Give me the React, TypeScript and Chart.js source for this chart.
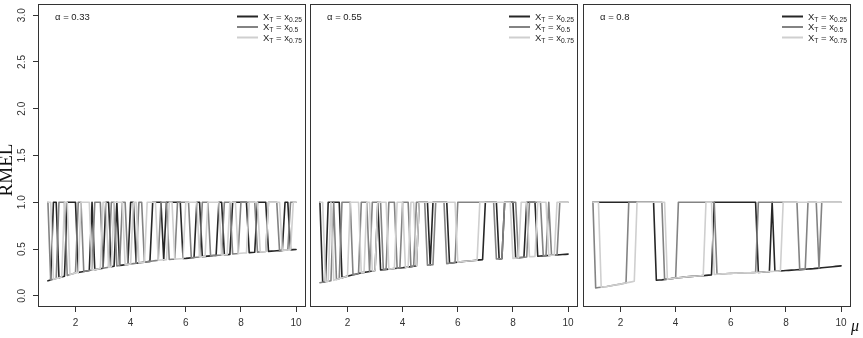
import React, { useEffect, useRef } from "react";
import { Chart, registerables } from "chart.js";

Chart.register(...registerables);

// ---------- data ----------
const MU = [
  1.0, 1.1, 1.2, 1.3, 1.4, 1.5, 1.6, 1.7, 1.8, 1.9,
  2.0, 2.1, 2.2, 2.3, 2.4, 2.5, 2.6, 2.7, 2.8, 2.9,
  3.0, 3.1, 3.2, 3.3, 3.4, 3.5, 3.6, 3.7, 3.8, 3.9,
  4.0, 4.1, 4.2, 4.3, 4.4, 4.5, 4.6, 4.7, 4.8, 4.9,
  5.0, 5.1, 5.2, 5.3, 5.4, 5.5, 5.6, 5.7, 5.8, 5.9,
  6.0, 6.1, 6.2, 6.3, 6.4, 6.5, 6.6, 6.7, 6.8, 6.9,
  7.0, 7.1, 7.2, 7.3, 7.4, 7.5, 7.6, 7.7, 7.8, 7.9,
  8.0, 8.1, 8.2, 8.3, 8.4, 8.5, 8.6, 8.7, 8.8, 8.9,
  9.0, 9.1, 9.2, 9.3, 9.4, 9.5, 9.6, 9.7, 9.8, 9.9,
  10.0,
];

const X_TICKS = [2, 4, 6, 8, 10];
const Y_TICKS = [0, 0.5, 1, 1.5, 2, 2.5, 3];
const ALPHAS = ["0.33", "0.55", "0.8"];
const QUANTILES = ["0.25", "0.5", "0.75"];

// lower RMEL curve for each panel (value at each MU)
const LOW_P1 = [
  0.160, 0.168, 0.176, 0.184, 0.192, 0.200, 0.209, 0.218, 0.227, 0.236,
  0.245, 0.250, 0.255, 0.260, 0.265, 0.270, 0.275, 0.280, 0.285, 0.290,
  0.295, 0.300, 0.305, 0.310, 0.315, 0.320, 0.324, 0.328, 0.332, 0.336,
  0.340, 0.344, 0.348, 0.352, 0.356, 0.360, 0.364, 0.368, 0.372, 0.376,
  0.380, 0.382, 0.384, 0.386, 0.388, 0.390, 0.392, 0.394, 0.396, 0.398,
  0.400, 0.403, 0.406, 0.409, 0.412, 0.415, 0.418, 0.421, 0.424, 0.427,
  0.430, 0.432, 0.434, 0.436, 0.438, 0.440, 0.443, 0.446, 0.449, 0.452,
  0.455, 0.457, 0.459, 0.461, 0.463, 0.465, 0.467, 0.469, 0.471, 0.473,
  0.475, 0.477, 0.479, 0.481, 0.483, 0.485, 0.487, 0.489, 0.491, 0.493,
  0.495,
];
const LOW_P2 = [
  0.140, 0.145, 0.150, 0.155, 0.160, 0.165, 0.174, 0.183, 0.192, 0.201,
  0.210, 0.217, 0.224, 0.231, 0.238, 0.245, 0.250, 0.255, 0.260, 0.265,
  0.270, 0.273, 0.276, 0.279, 0.282, 0.285, 0.288, 0.291, 0.294, 0.297,
  0.300, 0.304, 0.308, 0.312, 0.316, 0.320, 0.322, 0.324, 0.326, 0.328,
  0.330, 0.332, 0.334, 0.336, 0.338, 0.340, 0.344, 0.348, 0.352, 0.356,
  0.360, 0.363, 0.366, 0.369, 0.372, 0.375, 0.378, 0.381, 0.384, 0.387,
  0.390, 0.391, 0.392, 0.393, 0.394, 0.395, 0.396, 0.397, 0.398, 0.399,
  0.400, 0.403, 0.406, 0.409, 0.412, 0.415, 0.417, 0.419, 0.421, 0.423,
  0.425, 0.427, 0.429, 0.431, 0.433, 0.435, 0.437, 0.439, 0.441, 0.443,
  0.445,
];
const LOW_P3 = [
  0.080, 0.084, 0.088, 0.092, 0.096, 0.100, 0.105, 0.110, 0.115, 0.120,
  0.125, 0.131, 0.137, 0.143, 0.149, 0.155, 0.156, 0.157, 0.158, 0.159,
  0.160, 0.162, 0.164, 0.166, 0.168, 0.170, 0.174, 0.178, 0.182, 0.186,
  0.190, 0.193, 0.196, 0.199, 0.202, 0.205, 0.207, 0.209, 0.211, 0.213,
  0.215, 0.218, 0.221, 0.224, 0.227, 0.230, 0.232, 0.234, 0.236, 0.238,
  0.240, 0.241, 0.242, 0.243, 0.244, 0.245, 0.246, 0.247, 0.248, 0.249,
  0.250, 0.252, 0.254, 0.256, 0.258, 0.260, 0.262, 0.264, 0.266, 0.268,
  0.270, 0.272, 0.274, 0.276, 0.278, 0.280, 0.282, 0.284, 0.286, 0.288,
  0.290, 0.293, 0.296, 0.299, 0.302, 0.305, 0.308, 0.311, 0.314, 0.317,
  0.320,
];

// mu ranges where each series sits on the lower curve (elsewhere RMEL = 1)
const P1_Q25 = [[1.0, 1.1], [1.4, 1.6], [2.1, 2.5], [2.7, 3.0], [3.3, 3.4], [3.6, 3.9], [4.2, 4.7], [5.2, 5.2], [5.9, 6.3], [6.6, 7.1], [7.4, 7.6], [8.3, 8.5], [9.0, 9.5], [9.8, 10.0]];
const P1_Q50 = [[1.1, 1.3], [1.7, 2.0], [2.3, 2.6], [3.0, 3.2], [3.5, 3.6], [3.9, 4.2], [4.5, 5.0], [5.4, 5.6], [6.2, 6.5], [6.9, 7.3], [7.7, 7.9], [8.6, 8.9], [9.4, 9.7]];
const P1_Q75 = [[1.2, 1.5], [1.8, 2.1], [2.6, 2.9], [3.2, 3.3], [3.8, 4.0], [4.3, 4.5], [5.0, 5.3], [5.6, 5.9], [6.5, 6.7], [7.3, 7.5], [7.9, 8.2], [8.7, 8.9], [9.5, 9.8]];

const P2_Q25 = [[1.1, 1.2], [1.8, 3.0], [3.2, 4.5], [5.0, 5.0], [5.7, 6.9], [7.5, 7.6], [8.1, 8.4], [8.9, 10.0]];
const P2_Q50 = [[1.0, 1.4], [1.6, 1.7], [2.2, 2.4], [2.8, 2.8], [3.3, 3.4], [3.8, 3.9], [4.3, 4.4], [4.9, 5.1], [5.6, 5.9], [7.4, 7.6], [8.2, 8.5], [9.1, 9.2], [9.4, 9.6]];
const P2_Q75 = [[1.2, 1.3], [1.5, 2.0], [2.5, 2.6], [2.9, 3.0], [3.5, 3.7], [4.1, 4.2], [4.5, 4.5], [6.0, 6.7], [8.0, 8.2], [8.6, 8.8], [9.3, 9.5]];

const P3_Q25 = [[3.3, 5.3], [7.0, 7.4], [7.6, 10.0]];
const P3_Q50 = [[1.1, 2.2], [3.6, 4.0], [5.5, 6.9], [8.5, 8.7], [9.2, 9.2]];
const P3_Q75 = [[1.3, 2.5], [3.7, 5.0], [5.4, 7.8]];

const PANELS = [
  { alpha: ALPHAS[0], low: LOW_P1, series: [P1_Q25, P1_Q50, P1_Q75] },
  { alpha: ALPHAS[1], low: LOW_P2, series: [P2_Q25, P2_Q50, P2_Q75] },
  { alpha: ALPHAS[2], low: LOW_P3, series: [P3_Q25, P3_Q50, P3_Q75] },
];

// ---------- styles ----------
const COLORS = ["#262626", "#838383", "#cfcfcf"];
const FONT = '"Liberation Sans", Arial, sans-serif';

function buildSeries(low: number[], ranges: number[][]) {
  return MU.map((mu, i) => {
    const inLow = ranges.some(([a, b]) => mu >= a - 1e-6 && mu <= b + 1e-6);
    return { x: mu, y: inLow ? low[i] : 1 };
  });
}

const boxPlugin = {
  id: "rbox",
  afterDatasetsDraw(chart: any) {
    const { ctx, chartArea } = chart;
    ctx.save();
    ctx.strokeStyle = "#333";
    ctx.lineWidth = 1;
    ctx.strokeRect(
      chartArea.left + 0.5,
      chartArea.top + 0.5,
      chartArea.right - chartArea.left - 1,
      chartArea.bottom - chartArea.top - 1
    );
    ctx.restore();
  },
};

const panelTextPlugin = {
  id: "panelText",
  afterDraw(chart: any, _args: any, opts: any) {
    const { ctx, chartArea } = chart;
    const { left, top, right } = chartArea;
    ctx.save();
    ctx.fillStyle = "#222";
    ctx.textBaseline = "alphabetic";
    ctx.font = `9.5px ${FONT}`;
    ctx.fillText("\u03b1 = " + opts.alpha, left + 17, top + 15.5);
    chart.data.datasets.forEach((ds: any, i: number) => {
      const y = top + 12.5 + i * 10.5;
      ctx.strokeStyle = ds.borderColor;
      ctx.lineWidth = 2;
      ctx.beginPath();
      ctx.moveTo(right - 69, y);
      ctx.lineTo(right - 48, y);
      ctx.stroke();
      let x = right - 43;
      const base = y + 3;
      ctx.fillStyle = "#222";
      ctx.font = `9.5px ${FONT}`;
      ctx.fillText("X", x, base);
      x += ctx.measureText("X").width;
      ctx.font = `6.7px ${FONT}`;
      ctx.fillText("T", x, base + 2);
      x += ctx.measureText("T").width;
      ctx.font = `9.5px ${FONT}`;
      ctx.fillText(" = x", x, base);
      x += ctx.measureText(" = x").width;
      ctx.font = `6.7px ${FONT}`;
      ctx.fillText(ds.quantile, x, base + 2);
    });
    ctx.restore();
  },
};

function Panel({ index, left, width }: { index: number; left: number; width: number }) {
  const ref = useRef<HTMLCanvasElement>(null);
  useEffect(() => {
    const p = PANELS[index];
    const showY = index === 0;
    const datasets = p.series.map((ranges, k) => ({
      label: "X_T = x_" + QUANTILES[k],
      quantile: QUANTILES[k],
      data: buildSeries(p.low, ranges),
      borderColor: COLORS[k],
      backgroundColor: COLORS[k],
      borderWidth: 1.6,
      borderCapStyle: "round",
      borderJoinStyle: "round",
      pointRadius: 0,
      fill: false,
      tension: 0,
      order: 2 - k,
    }));
    const chart = new Chart(ref.current as HTMLCanvasElement, {
      type: "line",
      data: { datasets } as any,
      options: {
        animation: false,
        responsive: false,
        maintainAspectRatio: false,
        layout: { padding: { top: 4, right: 4, left: showY ? 0 : 4, bottom: 0 } },
        plugins: {
          legend: { display: false },
          tooltip: { enabled: false },
          panelText: { alpha: p.alpha },
        } as any,
        scales: {
          x: {
            type: "linear",
            min: 0.64,
            max: 10.36,
            afterBuildTicks: (s: any) => {
              s.ticks = X_TICKS.map((v) => ({ value: v }));
            },
            afterFit: (s: any) => {
              s.height = 31;
              s.paddingLeft = 0;
              s.paddingRight = 0;
            },
            border: { display: false },
            grid: { display: true, drawOnChartArea: false, drawTicks: true, tickLength: 5, color: "#333", lineWidth: 1 },
            ticks: {
              autoSkip: false,
              maxRotation: 0,
              minRotation: 0,
              padding: 5,
              color: "#333",
              font: { family: FONT, size: 10 },
              callback: (v: any) => String(v),
            },
          },
          y: {
            type: "linear",
            display: showY,
            min: -0.12,
            max: 3.12,
            afterBuildTicks: (s: any) => {
              s.ticks = Y_TICKS.map((v) => ({ value: v }));
            },
            afterFit: (s: any) => {
              s.width = showY ? 38 : 0;
              s.paddingTop = 0;
              s.paddingBottom = 0;
            },
            border: { display: false },
            grid: { display: true, drawOnChartArea: false, drawTicks: true, tickLength: 5, color: "#333", lineWidth: 1 },
            ticks: {
              autoSkip: false,
              minRotation: 90,
              maxRotation: 90,
              crossAlign: "center",
              padding: 4,
              color: "#333",
              font: { family: FONT, size: 10 },
              callback: (v: any) => Number(v).toFixed(1),
            },
          },
        },
      } as any,
      plugins: [boxPlugin, panelTextPlugin],
    });
    return () => chart.destroy();
  }, [index]);
  return (
    <canvas
      ref={ref}
      width={width}
      height={338}
      style={{ position: "absolute", left, top: 0, width, height: 338 }}
    />
  );
}

export default function App() {
  return (
    <div style={{ position: "fixed", left: 0, top: 0, width: 863, height: 338, background: "#fff", overflow: "hidden" }}>
      <Panel index={0} left={0} width={310} />
      <Panel index={1} left={306} width={276} />
      <Panel index={2} left={579} width={276} />
      <div
        style={{
          position: "absolute",
          left: -44,
          top: 160,
          width: 100,
          height: 20,
          lineHeight: "20px",
          textAlign: "center",
          fontFamily: '"Liberation Serif", serif',
          fontSize: 19,
          color: "#111",
          transform: "rotate(-90deg)",
          transformOrigin: "50% 50%",
          whiteSpace: "nowrap",
        }}
      >
        RMEL
      </div>
      <div
        style={{
          position: "absolute",
          left: 851,
          top: 318,
          lineHeight: "16px",
          fontFamily: '"Liberation Serif", serif',
          fontStyle: "italic",
          fontSize: 16,
          color: "#111",
          whiteSpace: "nowrap",
        }}
      >
        μ
      </div>
    </div>
  );
}
